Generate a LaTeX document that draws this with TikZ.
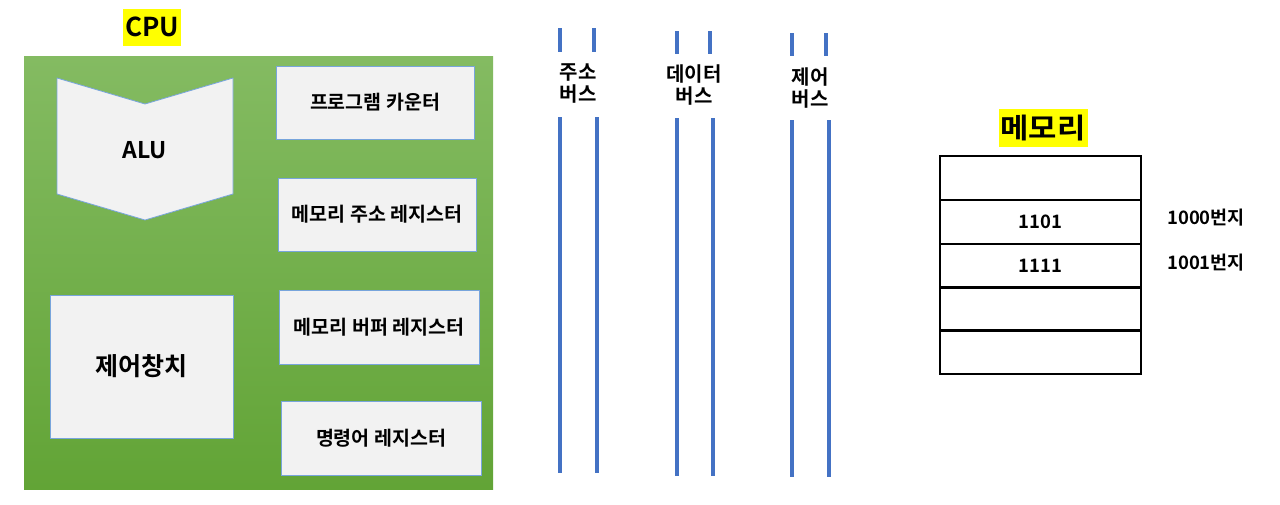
\documentclass[tikz,border=0pt]{standalone}
\usepackage{fontspec}
\setmainfont{Noto Sans CJK KR}[BoldFont={Noto Sans CJK KR Bold}]
\newfontfamily\wide{Noto Sans CJK KR Bold}[FakeStretch=1.1]
\usetikzlibrary{positioning}
\definecolor{gtop}{RGB}{132,187,98}
\definecolor{gbot}{RGB}{98,164,54}
\definecolor{boxfill}{RGB}{242,242,242}
\definecolor{boxline}{RGB}{120,165,220}
\definecolor{busblue}{RGB}{68,114,196}
\definecolor{hl}{RGB}{255,255,0}
\tikzset{
  reg/.style={draw=boxline, line width=0.8pt, fill=boxfill, inner sep=0pt, font=\bfseries\fontsize{19.5}{22}\selectfont},
  busline/.style={draw=busblue, line width=4pt},
  buslabel/.style={align=center, font=\bfseries\fontsize{20}{22}\selectfont, inner sep=0pt},
  memrow/.style={draw=black, line width=1.8pt, minimum width=201pt, minimum height=44pt, inner sep=0pt},
  memtext/.style={font=\bfseries\fontsize{18.5}{20}\selectfont, inner sep=0pt},
  title/.style={fill=hl, inner sep=2pt, font=\bfseries}
}
\begin{document}
\begin{tikzpicture}[x=1pt,y=-1pt]
\useasboundingbox (0,0) rectangle (1280,504);
% CPU frame
\shade[top color=gtop, bottom color=gbot] (24,56) rectangle (493,489);
\node[title, font=\bfseries\fontsize{26}{28}\selectfont, minimum width=56pt, minimum height=37pt] (cpu) at (152,27) {CPU};
% ALU chevron
\draw[boxline, line width=0.8pt, fill=boxfill] (57,78) -- (145,104) -- (233,78) -- (233,194) -- (145,220) -- (57,194) -- cycle;
\node[font=\bfseries\fontsize{23}{25}\selectfont] (alu) at (145,150) {ALU};
% control unit
\node[reg, minimum width=183pt, minimum height=143pt, font=\bfseries\fontsize{25}{27}\selectfont] (cu) at (141.5,366.5) {제어창치};
% registers
\node[reg, minimum width=198pt, minimum height=73pt] (pc) at (375,102.5) {프로그램 카운터};
\node[reg, minimum width=198pt, minimum height=73pt] (mar) at (377,214.5) {메모리 주소 레지스터};
\node[reg, minimum width=200pt, minimum height=74pt] (mbr) at (379,327) {메모리 버퍼 레지스터};
\node[reg, minimum width=200pt, minimum height=74pt] (ir) at (381,438) {명령어 레지스터};
% buses
\draw[busline] (560,28) -- (560,52);
\draw[busline] (594,28) -- (594,52);
\draw[busline] (560,117) -- (560,473);
\draw[busline] (597,117) -- (597,473);
\node[buslabel] (ab) at (578,83) {주소\\버스};
\draw[busline] (677,31) -- (677,54);
\draw[busline] (710,31) -- (710,54);
\draw[busline] (677,118) -- (677,476);
\draw[busline] (713,118) -- (713,476);
\node[buslabel] (db) at (694,85) {데이터\\버스};
\draw[busline] (792,33) -- (792,56);
\draw[busline] (826,33) -- (826,56);
\draw[busline] (792,120) -- (792,477);
\draw[busline] (829,120) -- (829,477);
\node[buslabel] (cb) at (810,88) {제어\\버스};
% memory
\node[title, font=\wide\fontsize{28}{30}\selectfont, minimum width=84pt, minimum height=38pt] (mem) at (1043,128) {메모리};
\node[memrow] (m0) at (1040.5,178) {};
\node[memrow, memtext] (m1) at (1040.5,222) {1101};
\node[memrow, memtext] (m2) at (1040.5,266) {1111};
\node[memrow] (m3) at (1040.5,309) {};
\node[memrow] (m4) at (1040.5,352) {};
\node[memtext, anchor=west] (a0) at (1167,218) {1000번지};
\node[memtext, anchor=west] (a1) at (1167,263) {1001번지};
\end{tikzpicture}
\end{document}
